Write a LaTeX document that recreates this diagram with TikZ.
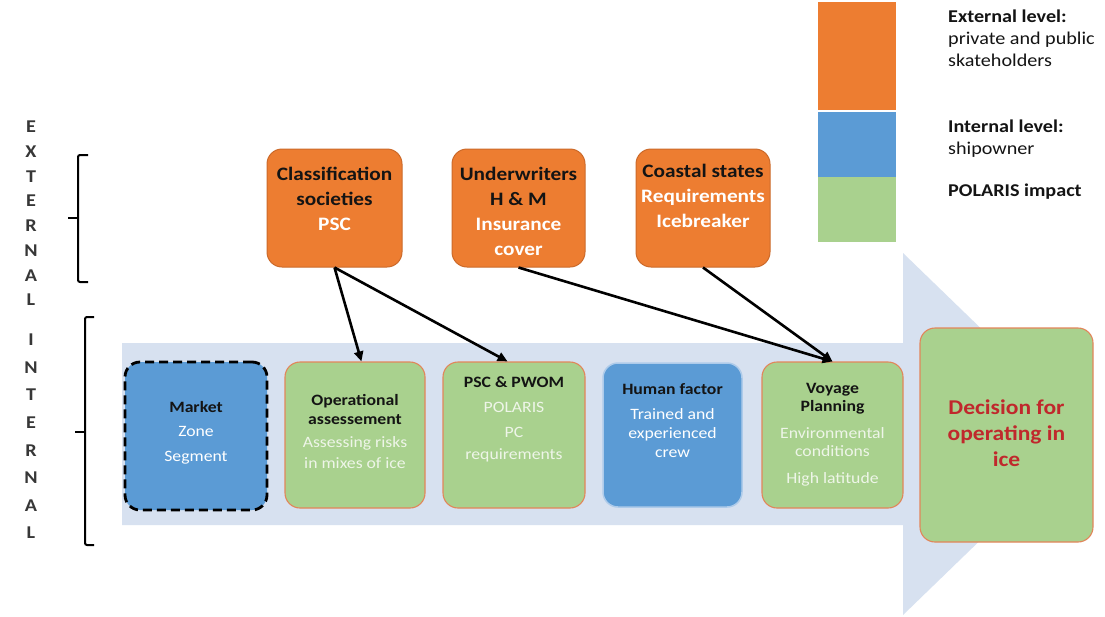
\documentclass[tikz,border=0pt]{standalone}
\usepackage{fontspec}
\setmainfont{Carlito}[FakeStretch=1.12]
\usetikzlibrary{arrows.meta}
\definecolor{orangeC}{HTML}{ED7D31}
\definecolor{orangeD}{HTML}{CC6A2A}
\definecolor{blueC}{HTML}{5B9BD5}
\definecolor{blueL}{HTML}{AECBEA}
\definecolor{greenC}{HTML}{A9D18E}
\definecolor{greenB}{HTML}{E2855A}
\definecolor{arrowC}{HTML}{D7E1F0}
\definecolor{darkT}{HTML}{141414}
\definecolor{paleT}{HTML}{EEF5E8}
\definecolor{redT}{HTML}{C0282C}
\tikzset{
  extbox/.style={rounded corners=15pt, fill=orangeC, draw=orangeD, line width=1pt, inner sep=0pt},
  grnbox/.style={rounded corners=15pt, fill=greenC, draw=greenB, line width=1.1pt, inner sep=0pt},
  blubox/.style={rounded corners=15pt, fill=blueC, draw=blueL, line width=1.5pt, inner sep=0pt},
  mktbox/.style={rounded corners=15pt, fill=blueC, draw=black, line width=2.8pt, dash pattern=on 9pt off 5pt, inner sep=0pt},
  toptext/.style={font=\fontsize{19}{25}\selectfont\bfseries, align=center, inner sep=0pt, text=darkT, anchor=north},
  boxtext/.style={font=\fontsize{15.8}{19}\selectfont, align=center, inner sep=0pt, text=darkT, anchor=north},
  dectext/.style={font=\fontsize{21}{26}\selectfont\bfseries, align=center, inner sep=0pt, text=redT, anchor=north},
  legtext/.style={font=\fontsize{18}{22}\selectfont, align=left, inner sep=0pt, text=darkT, anchor=north west},
  lettext/.style={font=\fontsize{18}{24.7}\selectfont\bfseries, align=center, inner sep=0pt, text=darkT!85},
  conn/.style={-{Triangle[length=10pt,width=9pt]}, line width=2.6pt, black},
  brk/.style={line width=2pt, black, rounded corners=2pt}
}
\begin{document}
\begin{tikzpicture}[x=1pt,y=-1pt]
\useasboundingbox (0,0) rectangle (1105,616);
\fill[white] (0,0) rectangle (1105,616);

% big arrow
\fill[arrowC] (122,343) -- (903,343) -- (903,253) -- (1090,434) -- (903,615) -- (903,525) -- (122,525) -- cycle;

% legend
\fill[orangeC] (818,2) rectangle (896,110);
\fill[blueC] (818,112) rectangle (896,177);
\fill[greenC] (818,177) rectangle (896,242);
\node[legtext] (legE) at (948,10) {\textbf{External level:}\\private and public\\skateholders};
\node[legtext] (legI) at (948,120) {\textbf{Internal level:}\\shipowner};
\node[legtext] (legP) at (948,184) {\textbf{POLARIS impact}};

% side labels
\node[lettext] (extL) at (31,213.5) {E\\X\\T\\E\\R\\N\\A\\L};
\node[lettext, font=\fontsize{18}{27.6}\selectfont\bfseries] (intL) at (31,436.5) {I\\N\\T\\E\\R\\N\\A\\L};
\draw[brk] (88,155) -- (78,155) -- (78,282) -- (88,282);
\draw[brk] (78,218) -- (68,218);
\draw[brk] (94,317) -- (85,317) -- (85,545) -- (94,545);
\draw[brk] (85,432) -- (75,432);

% external boxes
\node[extbox, minimum width=135pt, minimum height=118pt] (cls) at (334.5,208) {};
\node[extbox, minimum width=133pt, minimum height=118pt] (und) at (518.5,208) {};
\node[extbox, minimum width=134pt, minimum height=118pt] (coa) at (703,208) {};
\node[toptext] (clsT) at (334.5,167) {Classification\\societies\\\textcolor{white}{PSC}};
\node[toptext] (undT) at (518.5,167) {Underwriters\\H \& M\\\textcolor{white}{Insurance}\\\textcolor{white}{cover}};
\node[toptext] (coaT) at (703,164) {Coastal states\\\textcolor{white}{Requirements}\\\textcolor{white}{Icebreaker}};

% internal boxes
\node[mktbox, minimum width=142pt, minimum height=148pt] (mkt) at (196,436) {};
\node[grnbox, minimum width=140pt, minimum height=146pt] (ops) at (355,435) {};
\node[grnbox, minimum width=142pt, minimum height=146pt] (psc) at (514,435) {};
\node[blubox, minimum width=139pt, minimum height=144pt] (hum) at (672.5,435) {};
\node[grnbox, minimum width=141pt, minimum height=146pt] (voy) at (832.5,435) {};
\node[grnbox, minimum width=173pt, minimum height=214pt] (dec) at (1006.5,435) {};

\node[boxtext] (mktT) at (196,401) {\textbf{Market}\\[5pt]\textcolor{white}{Zone}\\[6pt]\textcolor{white}{Segment}};
\node[boxtext] (opsT) at (355,394) {\textbf{Operational}\\\textbf{assessement}\\[4pt]\textcolor{paleT}{Assessing risks}\\[2pt]\textcolor{paleT}{in mixes of ice}};
\node[boxtext] (pscT) at (514,376) {\textbf{PSC \& PWOM}\\[6pt]\textcolor{paleT}{POLARIS}\\[6pt]\textcolor{paleT}{PC}\\[3pt]\textcolor{paleT}{requirements}};
\node[boxtext] (humT) at (672.5,383) {\textbf{Human factor}\\[6pt]\textcolor{white}{Trained and}\\\textcolor{white}{experienced}\\\textcolor{white}{crew}};
\node[boxtext, font=\fontsize{15.8}{18.5}\selectfont] (voyT) at (832.5,383) {\textbf{Voyage}\\\textbf{Planning}\\[8pt]\textcolor{paleT}{Environmental}\\\textcolor{paleT}{conditions}\\[8pt]\textcolor{paleT}{High latitude}};
\node[dectext] (decT) at (1006.5,400) {Decision for\\operating in\\ice};

% connectors
\draw[conn] (cls.south) -- (ops.85);
\draw[conn] (cls.south) -- (psc.95);
\draw[conn] (und.south) -- (voy.north);
\draw[conn] (coa.south) -- (voy.north);
\end{tikzpicture}
\end{document}
